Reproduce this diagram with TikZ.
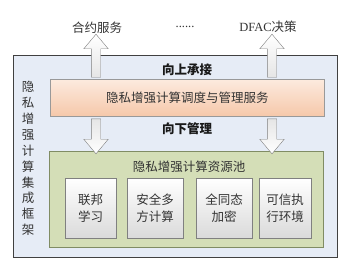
\documentclass[tikz,border=0pt]{standalone}
\usepackage{fontspec}
\setmainfont{Liberation Serif}
\newfontfamily\cjk{Noto Sans CJK SC}
\usepackage{xcolor}
\usepackage{tikz}
\usetikzlibrary{shapes.arrows, positioning}

\definecolor{frameblue}{RGB}{230,236,246}
\definecolor{peachtop}{RGB}{252,234,222}
\definecolor{peachbot}{RGB}{246,200,170}
\definecolor{poolgreen}{RGB}{212,222,183}
\definecolor{pooldraw}{RGB}{128,140,100}
\definecolor{boxbot}{RGB}{218,218,218}

\begin{document}
\begin{tikzpicture}[
    x=1pt, y=-1pt,
    % Outer integration frame
    frame/.style={
        rectangle, draw=black!75, fill=frameblue, line width=0.8pt,
        inner sep=0pt
    },
    % Scheduling service bar (orange)
    svcbar/.style={
        rectangle, draw=black!40, top color=peachtop, bottom color=peachbot,
        inner sep=0pt, font=\cjk\fontsize{12.5}{15}\selectfont, text=black!80
    },
    % Resource pool (green)
    pool/.style={
        rectangle, draw=pooldraw, fill=poolgreen, line width=0.6pt,
        inner sep=0pt
    },
    % Technique boxes (white/grey)
    tech/.style={
        rectangle, draw=black!50, top color=white, bottom color=boxbot,
        inner sep=0pt, align=center, minimum height=60pt,
        font=\cjk\fontsize{12.5}{17}\selectfont, text=black!80
    },
    % Block arrows
    fatarrow/.style={
        single arrow, draw=black!50, inner xsep=0pt, inner ysep=4.5pt,
        minimum width=24pt, single arrow head extend=7.5pt,
        single arrow tip angle=80
    },
    uparr/.style={fatarrow, rotate=90, top color=white, bottom color=black!10},
    downarr/.style={fatarrow, rotate=-90, bottom color=white, top color=black!10},
    % Plain labels
    label/.style={font=\cjk\fontsize{12.5}{15}\selectfont, text=black!80},
    boldlabel/.style={font=\cjk\bfseries\fontsize{12.5}{15}\selectfont, text=black!90},
]

\useasboundingbox (0,0) rectangle (350,266);

% ===== Outer frame =====
\node[frame, minimum width=323.5pt, minimum height=201.5pt] (frame) at (175.25,156.25) {};
\node[label, align=center, font=\cjk\fontsize{12.5}{15.9}\selectfont] (vtitle) at (28,158.5)
    {隐\\私\\增\\强\\计\\算\\集\\成\\框\\架};

% ===== Scheduling and management service =====
\node[svcbar, minimum width=274.5pt, minimum height=36.5pt] (svc) at (187.25,97.75)
    {隐私增强计算调度与管理服务};
\node[boldlabel] (upper) at (187,70) {向上承接};
\node[boldlabel] (lower) at (187,129) {向下管理};

% ===== Resource pool =====
\node[pool, minimum width=274pt, minimum height=96pt] (pool) at (186.5,199) {};
\node[label] (pooltitle) at (189,167) {隐私增强计算资源池};

\node[tech, minimum width=51pt] (fl)  at (90.5,208) {联邦\\学习};
\node[tech, minimum width=56pt] (mpc) at (155,208)  {安全多\\方计算};
\node[tech, minimum width=56pt] (he)  at (224,208)  {全同态\\加密};
\node[tech, minimum width=52pt] (tee) at (285,208)  {可信执\\行环境};

% ===== Upward services =====
\node[label] (contract) at (97,28) {合约服务};
\node[label] (dots) at (185,27) {\rmfamily\fontsize{12.5}{15}\selectfont ......};
\node[label] (dfac) at (268,27) {{\rmfamily\fontsize{12.5}{15}\selectfont DFAC}决策};

% Block arrows
\node[uparr, minimum height=43pt] (upL) at (96,58.5) {};
\node[uparr, minimum height=43pt] (upR) at (272,58.5) {};
\node[downarr, minimum height=35pt] (downL) at (96,133.5) {};
\node[downarr, minimum height=35pt] (downR) at (272,133.5) {};

\end{tikzpicture}
\end{document}
